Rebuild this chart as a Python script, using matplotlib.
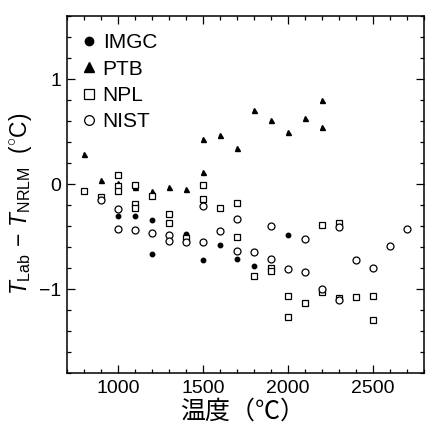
import matplotlib
matplotlib.use("Agg")
import matplotlib.pyplot as plt
from matplotlib.lines import Line2D
from matplotlib.ticker import MultipleLocator

plt.rcParams['font.family'] = ['Liberation Sans', 'DejaVu Sans']
plt.rcParams['mathtext.fontset'] = 'custom'
plt.rcParams['mathtext.rm'] = 'Liberation Sans'
plt.rcParams['mathtext.it'] = 'Liberation Sans:italic'

# ---- data ----
imgc_x = [1000, 1100, 1200, 1200, 1400, 1500, 1600, 1700, 1800, 2000]
imgc_y = [-0.30, -0.30, -0.34, -0.67, -0.48, -0.72, -0.58, -0.71, -0.78, -0.49]

ptb_x = [800, 900, 1000, 1100, 1200, 1300, 1400, 1500, 1500, 1600, 1700,
         1800, 1900, 2000, 2100, 2200, 2200]
ptb_y = [0.29, 0.04, 0.01, -0.03, -0.07, -0.03, -0.05, 0.11, 0.43, 0.47, 0.34,
         0.71, 0.61, 0.50, 0.63, 0.80, 0.54]

npl_x = [800, 900, 1000, 1000, 1000, 1100, 1100, 1100, 1200, 1300, 1300, 1400,
         1500, 1500, 1600, 1700, 1700, 1800, 1900, 1900, 2000, 2000, 2100, 2200,
         2200, 2300, 2300, 2400, 2500, 2500]
npl_y = [-0.07, -0.12, 0.09, -0.02, -0.07, -0.01, -0.19, -0.23, -0.11, -0.29, -0.37, -0.51,
         -0.01, -0.14, -0.23, -0.18, -0.50, -0.88, -0.80, -0.83, -1.07, -1.27, -1.13, -0.39,
         -1.03, -0.37, -1.09, -1.08, -1.07, -1.30]

nist_x = [900, 1000, 1000, 1100, 1200, 1300, 1300, 1400, 1500, 1500, 1600, 1700, 1700,
          1800, 1900, 1900, 2000, 2100, 2100, 2200, 2300, 2300, 2400, 2500, 2600, 2700]
nist_y = [-0.15, -0.24, -0.43, -0.44, -0.47, -0.49, -0.54, -0.55, -0.21, -0.55, -0.45, -0.33, -0.64,
          -0.65, -0.40, -0.71, -0.81, -0.52, -0.84, -1.00, -0.41, -1.10, -0.72, -0.80, -0.59, -0.43]

series_labels = ['IMGC', 'PTB', 'NPL', 'NIST']
x_ticks = [1000, 1500, 2000, 2500]
y_ticks = [-1, 0, 1]

fig = plt.figure(figsize=(4.26, 4.30), dpi=100)
ax = fig.add_axes([0.157, 0.1326, 0.838, 0.830])

kw = dict(linestyle='none', color='black')
ax.plot(imgc_x, imgc_y, marker='o', markersize=3.2, **kw)
ax.plot(ptb_x, ptb_y, marker='^', markersize=3.6, **kw)
ax.plot(npl_x, npl_y, marker='s', markersize=4.4, markerfacecolor='white',
        markeredgewidth=0.9, **kw)
ax.plot(nist_x, nist_y, marker='o', markersize=5.0, markerfacecolor='white',
        markeredgewidth=0.9, **kw)

ax.set_xlim(700, 2800)
ax.set_ylim(-1.8, 1.6)
ax.set_xticks(x_ticks)
ax.set_yticks(y_ticks)
ax.set_yticklabels(['\u22121', '0', '1'])
ax.xaxis.set_minor_locator(MultipleLocator(100))
ax.yaxis.set_minor_locator(MultipleLocator(0.2))
ax.tick_params(which='both', direction='in', top=True, right=True,
               labelsize=14, width=0.9)
ax.tick_params(which='major', length=6)
ax.tick_params(axis='x', which='major', pad=5)
ax.tick_params(axis='y', which='major', pad=4)
ax.tick_params(which='minor', length=3)
for s in ax.spines.values():
    s.set_linewidth(1.1)

ax.set_xlabel('温度（℃）', family=['Noto Sans CJK JP', 'DejaVu Sans'], fontsize=18)
ax.xaxis.set_label_coords(0.492, -0.072)
ax.set_ylabel(r'$T_{\rm Lab}\,-\,T_{\rm NRLM}$  ($^{\circ}$C)', fontsize=16.5)
ax.yaxis.set_label_coords(-0.092, 0.473)

handles = [
    Line2D([], [], marker='o', markersize=6, **kw),
    Line2D([], [], marker='^', markersize=6.5, **kw),
    Line2D([], [], marker='s', markersize=6.5, markerfacecolor='white', markeredgewidth=0.9, **kw),
    Line2D([], [], marker='o', markersize=7, markerfacecolor='white', markeredgewidth=0.9, **kw),
]
ax.legend(handles, series_labels, loc='upper left', bbox_to_anchor=(0.042, 0.952),
          frameon=False, fontsize=15, handlelength=0.7, handletextpad=0.3,
          labelspacing=0.35, borderpad=0, borderaxespad=0)

fig.savefig('out.png', dpi=100)
